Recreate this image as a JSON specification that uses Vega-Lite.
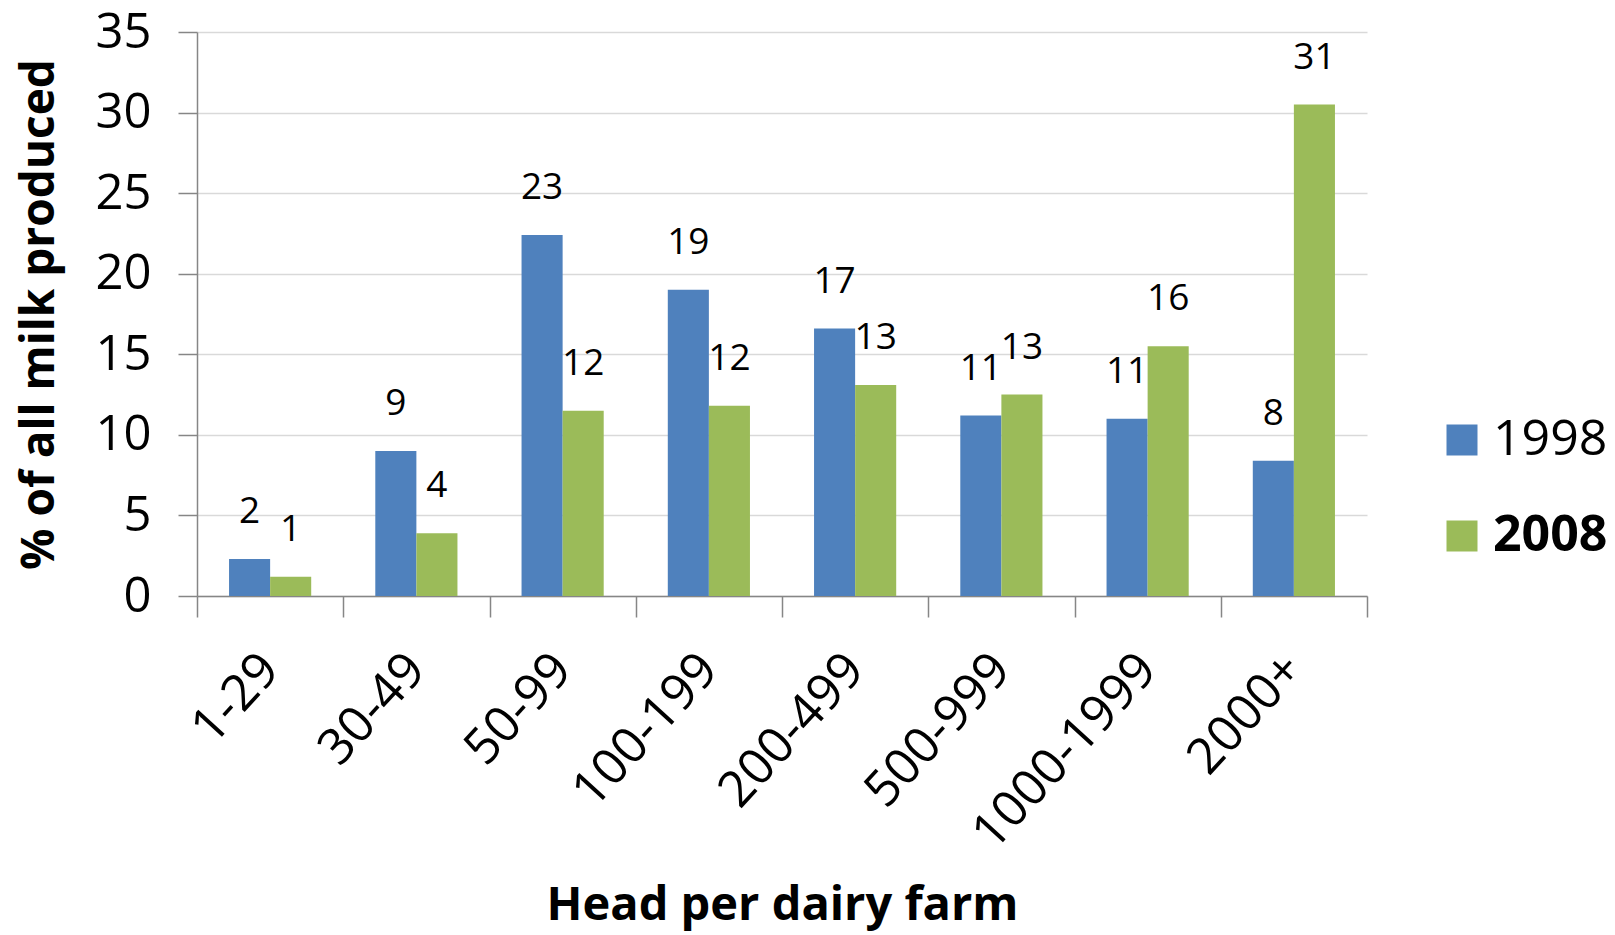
{
  "$schema": "https://vega.github.io/schema/vega-lite/v6.json",
  "width": 1170,
  "height": 564,
  "autosize": {"type": "none"},
  "padding": {"left": 197, "top": 32, "right": 248, "bottom": 339},
  "background": "white",
  "config": {
    "font": "Open Sans",
    "view": {"stroke": null}
  },
  "data": {
    "values": [
      {"head": "1-29", "year": "1998", "pct": 2.3, "label": "2"},
      {"head": "1-29", "year": "2008", "pct": 1.2, "label": "1"},
      {"head": "30-49", "year": "1998", "pct": 9.0, "label": "9"},
      {"head": "30-49", "year": "2008", "pct": 3.9, "label": "4"},
      {"head": "50-99", "year": "1998", "pct": 22.4, "label": "23"},
      {"head": "50-99", "year": "2008", "pct": 11.5, "label": "12"},
      {"head": "100-199", "year": "1998", "pct": 19.0, "label": "19"},
      {"head": "100-199", "year": "2008", "pct": 11.8, "label": "12"},
      {"head": "200-499", "year": "1998", "pct": 16.6, "label": "17"},
      {"head": "200-499", "year": "2008", "pct": 13.1, "label": "13"},
      {"head": "500-999", "year": "1998", "pct": 11.2, "label": "11"},
      {"head": "500-999", "year": "2008", "pct": 12.5, "label": "13"},
      {"head": "1000-1999", "year": "1998", "pct": 11.0, "label": "11"},
      {"head": "1000-1999", "year": "2008", "pct": 15.5, "label": "16"},
      {"head": "2000+", "year": "1998", "pct": 8.4, "label": "8"},
      {"head": "2000+", "year": "2008", "pct": 30.5, "label": "31"}
    ]
  },
  "encoding": {
    "x": {
      "field": "head",
      "type": "nominal",
      "sort": null,
      "scale": {"paddingInner": 0, "paddingOuter": 0},
      "axis": {
        "title": "Head per dairy farm",
        "titleFontSize": 47,
        "titleFontWeight": "bold",
        "titleColor": "#000000",
        "titleY": 309,
        "titleBaseline": "middle",
        "labelAngle": -47.5,
        "labelAlign": "right",
        "labelBaseline": "middle",
        "labelFontSize": 50,
        "labelLimit": 0,
        "labelColor": "#000000",
        "labelPadding": 44,
        "tickBand": "extent",
        "tickSize": 21,
        "tickColor": "#868686",
        "tickWidth": 1.5,
        "domainColor": "#868686",
        "domainWidth": 1.5,
        "grid": false
      }
    },
    "xOffset": {
      "field": "year",
      "type": "nominal",
      "sort": ["1998", "2008"],
      "scale": {"paddingInner": 0, "paddingOuter": 0.78}
    },
    "y": {
      "field": "pct",
      "type": "quantitative",
      "scale": {"domain": [0, 35], "nice": false},
      "axis": {
        "title": "% of all milk produced",
        "titleFontSize": 46,
        "titleFontWeight": "bold",
        "titleColor": "#000000",
        "titleX": -158,
        "titleY": 282,
        "titleBaseline": "middle",
        "titleAngle": -90,
        "values": [0, 5, 10, 15, 20, 25, 30, 35],
        "labelFontSize": 49,
        "labelColor": "#000000",
        "labelPadding": 27,
        "tickSize": 19,
        "tickColor": "#868686",
        "tickWidth": 1.5,
        "domainColor": "#868686",
        "domainWidth": 1.5,
        "gridColor": "#d9d9d9",
        "gridWidth": 1.5
      }
    }
  },
  "layer": [
    {
      "mark": {"type": "bar"},
      "encoding": {
        "color": {
          "field": "year",
          "type": "nominal",
          "scale": {"domain": ["1998", "2008"], "range": ["#4F81BD", "#9BBB59"]},
          "legend": {
            "title": null,
            "orient": "none",
            "legendX": 1240,
            "legendY": 383,
            "symbolType": "square",
            "symbolSize": 961,
            "symbolStrokeWidth": 0,
            "labelFontSize": 50,
            "labelColor": "#000000",
            "labelOffset": 6,
            "rowPadding": 46,
            "encode": {
              "labels": {
                "update": {
                  "fontWeight": {"signal": "datum.label === '2008' ? 'bold' : 'normal'"}
                }
              }
            }
          }
        }
      }
    },
    {
      "mark": {"type": "text", "fontSize": 37, "baseline": "middle", "dy": -47, "color": "#000000"},
      "encoding": {
        "text": {"field": "label", "type": "nominal"}
      }
    }
  ]
}
